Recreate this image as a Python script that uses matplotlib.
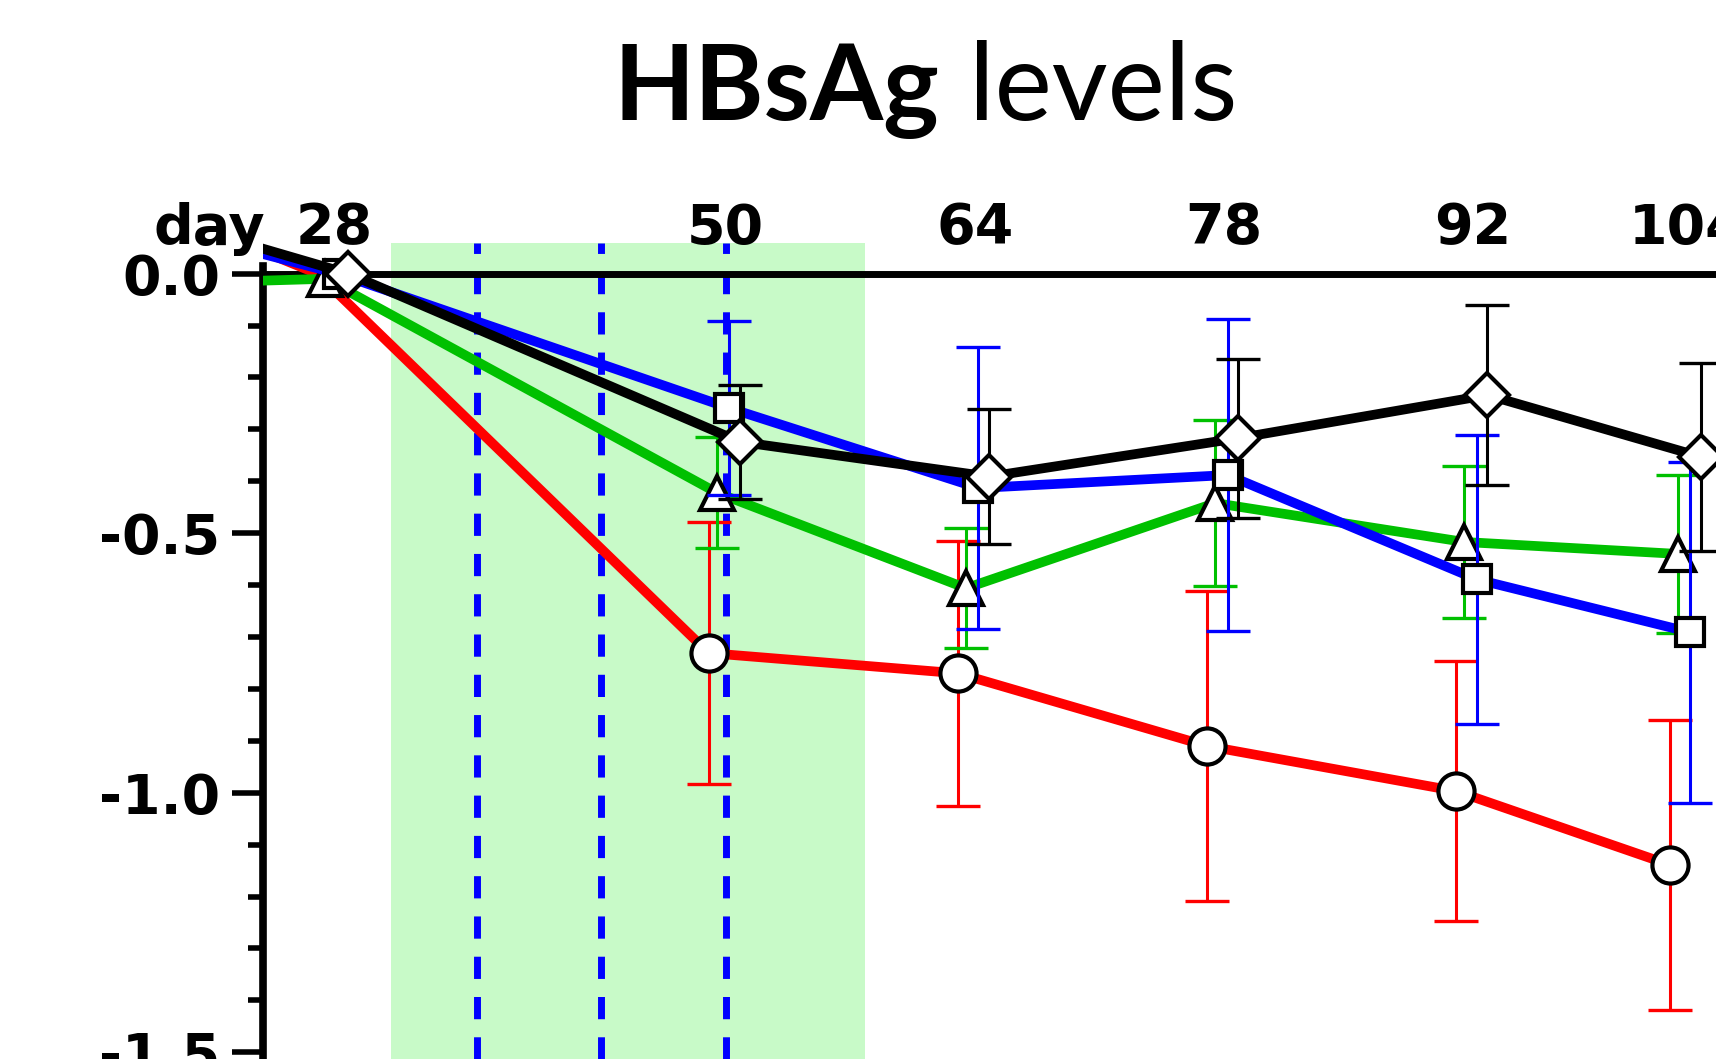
import numpy as np
import matplotlib.pyplot as plt
from matplotlib.ticker import MultipleLocator

plt.rcParams['axes.unicode_minus'] = False
plt.rcParams['lines.scale_dashes'] = False

# ── values ────────────────────────────────────────────────────
days      = [23, 28, 50, 64, 78, 92, 104]
tick_days = [28, 50, 64, 78, 92, 104]

red_mean   = [0.070, 0.0, -0.731, -0.770, -0.910, -0.997, -1.139]
red_err    = [0.0, 0.0, 0.252, 0.255, 0.298, 0.250, 0.279]
green_mean = [-0.015, -0.01, -0.422, -0.606, -0.442, -0.517, -0.540]
green_err  = [0.0, 0.0, 0.107, 0.115, 0.160, 0.147, 0.152]
blue_mean  = [0.045, 0.0, -0.259, -0.413, -0.388, -0.589, -0.691]
blue_err   = [0.0, 0.0, 0.168, 0.272, 0.300, 0.278, 0.328]
black_mean = [0.050, 0.0, -0.324, -0.391, -0.317, -0.234, -0.353]
black_err  = [0.0, 0.0, 0.110, 0.130, 0.153, 0.174, 0.181]

dose_days    = [36, 43, 50]
treat_window = [31.2, 57.8]

y_ticks      = [0.0, -0.5, -1.0, -1.5]
y_ticklabels = ["0.0", "-0.5", "-1.0", "-1.5"]

# (mean, err, colour, marker, markersize, x-dodge in days, first marker idx)
series = [
    (red_mean,   red_err,   "#ff0000", "o", 26, -0.95, 2),
    (green_mean, green_err, "#00c000", "^", 25, -0.50, 1),
    (blue_mean,  blue_err,  "#0000ff", "s", 20,  0.20, 1),
    (black_mean, black_err, "#000000", "D", 22,  0.80, 1),
]

W, H = 1716, 1059
fig = plt.figure(figsize=(W / 100, H / 100), dpi=100)
fig.patch.set_facecolor("white")

ax_left, ax_top = 263, 243
ax = fig.add_axes([ax_left / W, 0, 1 - ax_left / W, (H - ax_top) / H])
ax.set_xlim(24.0, 105.64)
ax.set_ylim(-1.513, 0.059)

# treatment window + dosing days
ax.axvspan(*treat_window, color="#c8fac8", lw=0, zorder=1)
for d in dose_days:
    ax.axvline(d, color="#0000ff", lw=5, dashes=(16, 13), zorder=2)
ax.axhline(0, color="black", lw=5, zorder=2)

# ── the four groups ───────────────────────────────────────────
x_all = np.array(days, dtype=float)
for i, (mean, err, col, mk, ms, dx, m0) in enumerate(series):
    x = x_all + dx
    z = 3 + i * 3
    ax.plot(x, mean, color=col, lw=7, zorder=z)
    ax.errorbar(x[2:], mean[2:], yerr=err[2:], fmt="none", ecolor=col,
                elinewidth=2.2, capsize=16, capthick=2.4, zorder=z + 1)
    ax.plot(x[m0:], mean[m0:], ls="none", marker=mk, ms=ms,
            mfc="white", mec="black", mew=3, zorder=z + 2)

# ── axes styling ──────────────────────────────────────────────
for s in ["top", "right", "bottom"]:
    ax.spines[s].set_visible(False)
ax.spines["left"].set_linewidth(5.5)
ax.spines["left"].set_bounds(-1.6, 0.015)

ax.set_yticks(y_ticks)
ax.set_yticklabels(y_ticklabels, fontsize=40, fontweight="bold",
                   family="DejaVu Sans")
ax.yaxis.set_minor_locator(MultipleLocator(0.1))
ax.tick_params(axis="y", which="major", length=22, width=4, pad=9)
ax.tick_params(axis="y", which="minor", length=11, width=4)

ax.xaxis.tick_top()
ax.set_xticks(tick_days)
ax.set_xticklabels([str(d) for d in tick_days], fontsize=40,
                   fontweight="bold", family="DejaVu Sans")
ax.tick_params(axis="x", which="both", length=0, pad=-9)

ax.annotate("day", xy=(24.1, 1), xycoords=("data", "axes fraction"),
            xytext=(0, -1), textcoords="offset points",
            ha="right", va="baseline", fontsize=40, fontweight="bold",
            family="DejaVu Sans", annotation_clip=False)

# title: bold + regular parts
fig.text(939 / W, 1 - 120 / H, "HBsAg", ha="right", va="baseline",
         fontsize=76, fontweight="bold", family="Lato")
fig.text(969 / W, 1 - 120 / H, "levels", ha="left", va="baseline",
         fontsize=78, family="Lato")

fig.savefig("out.png", dpi=100)
